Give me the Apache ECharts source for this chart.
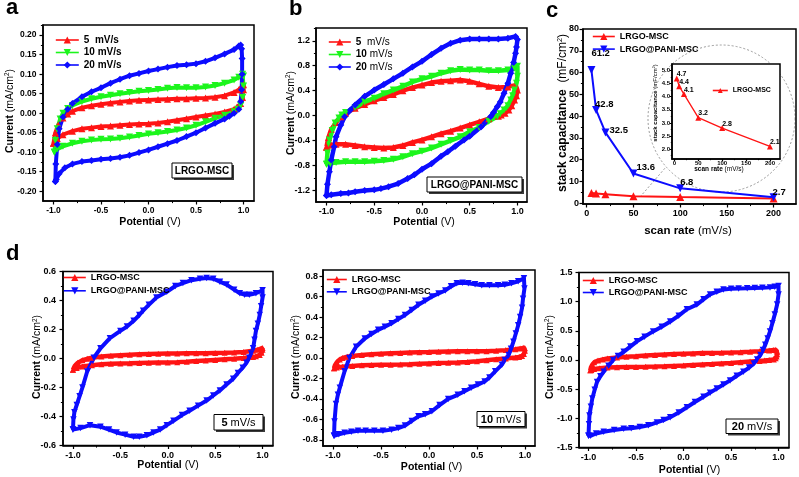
<!DOCTYPE html>
<html><head><meta charset="utf-8">
<script src="https://cdn.jsdelivr.net/npm/echarts@6/dist/echarts.min.js"></script>
<style>html,body{margin:0;padding:0;background:#fff}#c{width:799px;height:477px}</style>
</head><body><div id="c"></div>
<script>
// ---------------- DATA ----------------
const cvXTicks = [-1.0, -0.5, 0.0, 0.5, 1.0];
const aYTicks = [-0.20, -0.15, -0.10, -0.05, 0.00, 0.05, 0.10, 0.15, 0.20];
const bYTicks = [-1.2, -0.8, -0.4, 0.0, 0.4, 0.8, 1.2];
const cXTicks = [0, 50, 100, 150, 200];
const cYTicks = [0, 10, 20, 30, 40, 50, 60, 70, 80];
const insetXTicks = [0, 50, 100, 150, 200];
const insetYTicks = [2.0, 2.5, 3.0, 3.5, 4.0, 4.5, 5.0];
const d1YTicks = [-0.6, -0.4, -0.2, 0.0, 0.2, 0.4, 0.6];
const d2YTicks = [-0.8, -0.6, -0.4, -0.2, 0.0, 0.2, 0.4, 0.6, 0.8];
const d3YTicks = [-1.5, -1.0, -0.5, 0.0, 0.5, 1.0, 1.5];

const rateNames = ['5  mV/s', '10 mV/s', '20 mV/s'];

// LRGO-MSC CV loops (potential V, current mA/cm2)
const lrgo5 = [[-1.0,-0.077],[-0.98,-0.05],[-0.95,-0.03],[-0.9,-0.012],[-0.85,-0.002],[-0.8,0.005],[-0.7,0.014],[-0.6,0.019],[-0.5,0.023],[-0.4,0.026],[-0.3,0.029],[-0.2,0.031],[-0.1,0.033],[0,0.034],[0.1,0.035],[0.2,0.036],[0.3,0.037],[0.4,0.037],[0.5,0.038],[0.6,0.039],[0.7,0.041],[0.8,0.045],[0.9,0.053],[0.95,0.06],[1.0,0.073],
 [1.0,0.06],[0.99,0.04],[0.97,0.025],[0.93,0.015],
 [0.9,0.01],[0.8,0.003],[0.7,-0.002],[0.6,-0.006],[0.5,-0.01],[0.4,-0.014],[0.3,-0.018],[0.2,-0.022],[0.1,-0.025],[0,-0.027],[-0.1,-0.028],[-0.2,-0.029],[-0.3,-0.031],[-0.4,-0.033],[-0.5,-0.034],[-0.6,-0.037],[-0.7,-0.04],[-0.8,-0.046],[-0.9,-0.055],[-0.96,-0.065],[-1.0,-0.077]];
const lrgo10 = [[-0.99,-0.1],[-0.98,-0.07],[-0.96,-0.04],[-0.93,-0.015],[-0.9,0.0],[-0.85,0.012],[-0.8,0.02],[-0.7,0.03],[-0.6,0.037],[-0.5,0.042],[-0.4,0.046],[-0.3,0.05],[-0.2,0.053],[-0.1,0.056],[0,0.058],[0.1,0.061],[0.2,0.064],[0.3,0.066],[0.4,0.065],[0.5,0.065],[0.6,0.067],[0.7,0.071],[0.8,0.077],[0.9,0.085],[0.95,0.092],[0.99,0.1],
 [1.0,0.095],[1.0,0.07],[0.99,0.04],[0.97,0.02],[0.94,0.01],
 [0.9,0.004],[0.8,-0.005],[0.7,-0.013],[0.6,-0.022],[0.5,-0.031],[0.4,-0.038],[0.3,-0.043],[0.2,-0.047],[0.1,-0.05],[0,-0.053],[-0.1,-0.057],[-0.2,-0.061],[-0.3,-0.064],[-0.4,-0.066],[-0.5,-0.067],[-0.6,-0.069],[-0.7,-0.072],[-0.8,-0.077],[-0.9,-0.085],[-0.96,-0.092],[-0.99,-0.1]];
const lrgo20 = [[-0.98,-0.175],[-0.975,-0.13],[-0.96,-0.08],[-0.94,-0.04],[-0.9,-0.01],[-0.85,0.01],[-0.8,0.025],[-0.7,0.042],[-0.6,0.055],[-0.5,0.065],[-0.4,0.077],[-0.3,0.087],[-0.2,0.096],[-0.1,0.102],[0,0.108],[0.1,0.113],[0.2,0.118],[0.3,0.122],[0.4,0.124],[0.5,0.127],[0.6,0.133],[0.7,0.142],[0.8,0.152],[0.9,0.163],[0.95,0.172],[0.97,0.175],
 [0.98,0.165],[0.985,0.14],[0.985,0.1],[0.98,0.06],[0.97,0.03],[0.95,0.01],
 [0.9,0.0],[0.85,-0.008],[0.8,-0.015],[0.7,-0.026],[0.6,-0.038],[0.5,-0.05],[0.4,-0.06],[0.3,-0.07],[0.2,-0.078],[0.1,-0.086],[0,-0.094],[-0.1,-0.101],[-0.2,-0.108],[-0.3,-0.113],[-0.4,-0.116],[-0.5,-0.118],[-0.6,-0.121],[-0.7,-0.124],[-0.8,-0.13],[-0.88,-0.14],[-0.94,-0.155],[-0.97,-0.17],[-0.98,-0.175]];

// LRGO@PANI-MSC CV loops as read in panel b
const pani5b = [[-1.0,-0.5],[-0.98,-0.35],[-0.95,-0.22],[-0.9,-0.11],[-0.85,-0.02],[-0.8,0.04],[-0.7,0.12],[-0.6,0.18],[-0.5,0.24],[-0.4,0.29],[-0.3,0.34],[-0.2,0.4],[-0.1,0.45],[0,0.49],[0.1,0.53],[0.2,0.55],[0.3,0.56],[0.4,0.57],[0.5,0.55],[0.6,0.51],[0.7,0.47],[0.8,0.45],[0.9,0.46],[0.98,0.49],
 [1.0,0.41],[0.99,0.32],[0.97,0.25],[0.94,0.16],[0.91,0.09],[0.87,0.04],[0.83,0.01],
 [0.8,-0.01],[0.7,-0.05],[0.6,-0.1],[0.5,-0.15],[0.4,-0.2],[0.3,-0.25],[0.2,-0.29],[0.1,-0.34],[0,-0.39],[-0.1,-0.43],[-0.2,-0.48],[-0.3,-0.51],[-0.4,-0.52],[-0.5,-0.51],[-0.6,-0.5],[-0.7,-0.48],[-0.8,-0.46],[-0.9,-0.46],[-0.95,-0.47],[-1.0,-0.51]];
const pani10b = [[-1.0,-0.78],[-0.99,-0.6],[-0.97,-0.39],[-0.94,-0.24],[-0.91,-0.12],[-0.87,-0.04],[-0.84,0.01],[-0.8,0.05],[-0.7,0.13],[-0.6,0.22],[-0.5,0.28],[-0.4,0.35],[-0.3,0.41],[-0.2,0.47],[-0.1,0.54],[0,0.59],[0.1,0.63],[0.2,0.68],[0.3,0.72],[0.4,0.74],[0.5,0.73],[0.6,0.73],[0.7,0.72],[0.8,0.72],[0.9,0.73],[0.97,0.76],[1.0,0.79],
 [1.0,0.63],[0.99,0.52],[0.97,0.41],[0.95,0.32],[0.93,0.25],[0.9,0.16],[0.86,0.09],[0.82,0.03],
 [0.79,-0.016],[0.7,-0.09],[0.6,-0.19],[0.5,-0.26],[0.4,-0.34],[0.3,-0.4],[0.2,-0.46],[0.1,-0.52],[0,-0.57],[-0.1,-0.61],[-0.2,-0.66],[-0.3,-0.7],[-0.4,-0.72],[-0.5,-0.73],[-0.6,-0.74],[-0.7,-0.74],[-0.8,-0.74],[-0.9,-0.75],[-0.96,-0.77],[-1.0,-0.78]];
const pani20b = [[-1.0,-1.28],[-0.99,-1.1],[-0.97,-0.9],[-0.95,-0.71],[-0.92,-0.5],[-0.9,-0.34],[-0.85,-0.15],[-0.81,-0.02],[-0.75,0.09],[-0.7,0.17],[-0.6,0.31],[-0.5,0.41],[-0.4,0.5],[-0.3,0.59],[-0.2,0.68],[-0.1,0.78],[0,0.87],[0.1,0.98],[0.2,1.08],[0.3,1.16],[0.4,1.21],[0.5,1.23],[0.6,1.23],[0.7,1.23],[0.8,1.23],[0.9,1.24],[0.98,1.27],
 [1.0,1.22],[0.99,1.1],[0.98,1.0],[0.96,0.85],[0.93,0.68],[0.9,0.52],[0.86,0.36],[0.82,0.22],[0.79,0.145],[0.75,0.05],[0.72,-0.016],
 [0.62,-0.18],[0.5,-0.33],[0.44,-0.39],[0.35,-0.49],[0.27,-0.58],[0.2,-0.65],[0.1,-0.77],[0,-0.86],[-0.08,-0.95],[-0.15,-1.01],[-0.25,-1.09],[-0.35,-1.14],[-0.43,-1.17],[-0.5,-1.19],[-0.6,-1.2],[-0.7,-1.22],[-0.77,-1.24],[-0.85,-1.25],[-0.95,-1.27],[-1.0,-1.28]];

// LRGO@PANI-MSC CV loops as read in panel d
const pani5d = [[-1.0,-0.49],[-0.995,-0.42],[-0.985,-0.37],[-0.96,-0.32],[-0.93,-0.26],[-0.9,-0.2],[-0.85,-0.09],[-0.78,0.005],[-0.71,0.07],[-0.61,0.14],[-0.5,0.19],[-0.43,0.22],[-0.36,0.26],[-0.3,0.3],[-0.26,0.33],[-0.2,0.37],[-0.12,0.42],[-0.01,0.46],[0.08,0.5],[0.16,0.52],[0.25,0.54],[0.34,0.55],[0.41,0.555],[0.48,0.55],[0.55,0.53],[0.62,0.51],[0.7,0.475],[0.76,0.45],[0.81,0.44],[0.86,0.44],[0.93,0.45],[1.0,0.47],
 [1.0,0.42],[0.985,0.36],[0.97,0.3],[0.95,0.24],[0.93,0.19],[0.915,0.13],[0.9,0.07],[0.88,0.035],[0.86,0.005],[0.83,-0.03],[0.79,-0.064],[0.74,-0.1],[0.69,-0.14],[0.62,-0.18],[0.55,-0.22],[0.48,-0.255],[0.41,-0.29],[0.32,-0.325],[0.23,-0.36],[0.15,-0.39],[0.06,-0.43],[-0.01,-0.46],[-0.08,-0.49],[-0.15,-0.51],[-0.22,-0.53],[-0.3,-0.54],[-0.36,-0.54],[-0.45,-0.525],[-0.54,-0.51],[-0.62,-0.49],[-0.71,-0.47],[-0.82,-0.46],[-0.92,-0.48],[-1.0,-0.49]];
const pani10d = [[-0.99,-0.76],[-0.985,-0.62],[-0.97,-0.45],[-0.95,-0.36],[-0.93,-0.29],[-0.88,-0.13],[-0.83,0.0],[-0.76,0.11],[-0.67,0.19],[-0.6,0.235],[-0.53,0.275],[-0.46,0.305],[-0.39,0.34],[-0.32,0.38],[-0.25,0.42],[-0.18,0.47],[-0.11,0.52],[-0.04,0.56],[0.03,0.6],[0.1,0.63],[0.17,0.66],[0.23,0.7],[0.29,0.73],[0.35,0.735],[0.41,0.73],[0.48,0.72],[0.55,0.71],[0.63,0.71],[0.72,0.71],[0.79,0.715],[0.86,0.73],[0.93,0.75],[0.99,0.78],
 [0.995,0.68],[0.98,0.58],[0.97,0.49],[0.95,0.4],[0.93,0.32],[0.905,0.24],[0.88,0.16],[0.855,0.09],[0.83,0.03],[0.79,-0.02],[0.76,-0.065],[0.69,-0.13],[0.63,-0.19],[0.58,-0.23],[0.51,-0.26],[0.44,-0.29],[0.37,-0.325],[0.3,-0.36],[0.2,-0.4],[0.11,-0.46],[0.03,-0.52],[-0.04,-0.55],[-0.11,-0.57],[-0.18,-0.615],[-0.25,-0.66],[-0.32,-0.685],[-0.39,-0.7],[-0.48,-0.71],[-0.57,-0.71],[-0.66,-0.71],[-0.74,-0.71],[-0.81,-0.72],[-0.88,-0.73],[-0.94,-0.745],[-0.99,-0.76]];
const pani20d = [[-1.0,-1.3],[-0.995,-1.1],[-0.99,-0.95],[-0.975,-0.8],[-0.96,-0.66],[-0.935,-0.51],[-0.91,-0.375],[-0.875,-0.28],[-0.84,-0.2],[-0.79,-0.1],[-0.74,0.0],[-0.69,0.07],[-0.63,0.14],[-0.56,0.23],[-0.49,0.32],[-0.41,0.4],[-0.32,0.49],[-0.23,0.57],[-0.14,0.66],[-0.05,0.76],[0.035,0.87],[0.14,0.95],[0.21,1.04],[0.28,1.125],[0.35,1.17],[0.42,1.21],[0.5,1.22],[0.58,1.225],[0.67,1.23],[0.75,1.235],[0.83,1.24],[0.91,1.245],[0.96,1.255],[1.0,1.27],
 [1.0,1.125],[0.985,0.95],[0.96,0.78],[0.935,0.63],[0.91,0.49],[0.885,0.37],[0.86,0.26],[0.835,0.17],[0.81,0.087],[0.775,0.01],[0.74,-0.058],[0.69,-0.13],[0.63,-0.2],[0.56,-0.27],[0.49,-0.35],[0.42,-0.42],[0.35,-0.49],[0.28,-0.56],[0.21,-0.63],[0.12,-0.72],[0.035,-0.81],[-0.05,-0.9],[-0.14,-0.98],[-0.21,-1.03],[-0.28,-1.07],[-0.37,-1.12],[-0.46,-1.15],[-0.55,-1.17],[-0.63,-1.18],[-0.73,-1.2],[-0.84,-1.23],[-0.92,-1.26],[-0.98,-1.3],[-1.0,-1.3]];

// Panel c: stack capacitance vs scan rate
const scanRates = [5, 10, 20, 50, 100, 200];
const capLRGO = [4.7, 4.4, 4.1, 3.2, 2.8, 2.1];
const capPANI = [61.2, 42.8, 32.5, 13.6, 6.8, 2.7];

// ---------------- STYLE / BUILD ----------------
const FONT = "'Liberation Sans', Arial, Helvetica, sans-serif";
const RED = '#ff1414', GREEN = '#1cf51c', BLUE = '#0c0cff';

function mids(maj, min, max) {
  const out = [];
  const st = maj[1] - maj[0];
  for (let i = 0; i < maj.length - 1; i++) out.push((maj[i] + maj[i + 1]) / 2);
  if (maj[0] - st / 2 > min) out.unshift(maj[0] - st / 2);
  if (maj[maj.length - 1] + st / 2 < max) out.push(maj[maj.length - 1] + st / 2);
  return out;
}
const grids = [], xAxes = [], yAxes = [];
function addPanel(g, xr, yr, xMaj, yMaj, xDec, yDec, o) {
  const gi = grids.length;
  grids.push(Object.assign({show: true, borderColor: '#000', borderWidth: 1.5, backgroundColor: o.bg || 'transparent', z: o.z || 2}, g));
  const lab = (d, m, fs) => ({show: true, customValues: null, formatter: v => v.toFixed(d), fontSize: fs, fontWeight: 'bold', color: '#000', fontFamily: FONT, margin: m});
  const mk = (dim, r, maj, dec, m) => {
    const base = {gridIndex: gi, type: 'value', min: r[0], max: r[1], splitLine: {show: false}, position: dim === 'x' ? 'bottom' : 'left', z: o.az || 3};
    const l = lab(dec, m, o.fs); l.customValues = maj;
    return [
      Object.assign({}, base, {axisLine: {show: true, onZero: false, lineStyle: {color: '#000', width: 1.5}},
        axisTick: {show: true, inside: false, length: o.tl || 3.5, customValues: maj, lineStyle: {color: '#000', width: 1.2}}, axisLabel: l}),
      Object.assign({}, base, {axisLine: {show: false, onZero: false}, axisTick: {show: true, inside: false, length: (o.tl || 3.5) * 0.6, customValues: mids(maj, r[0], r[1]), lineStyle: {color: '#000', width: 1}}, axisLabel: {show: false}})
    ];
  };
  const xi = xAxes.length, yi = yAxes.length;
  xAxes.push(...mk('x', xr, xMaj, xDec, o.xm));
  yAxes.push(...mk('y', yr, yMaj, yDec, o.ym));
  return {xi, yi};
}
function line(name, data, ax, color, symbol, rot, size, lw, z) {
  return {type: 'line', name, data, xAxisIndex: ax.xi, yAxisIndex: ax.yi, symbol, symbolRotate: rot, symbolSize: size,
    showSymbol: true, showAllSymbol: true, color, lineStyle: {color, width: lw}, itemStyle: {color, borderWidth: 0},
    animation: false, silent: true, z: z || 3};
}

const pa = addPanel({left: 43, top: 25, width: 211, height: 176}, [-1.11, 1.11], [-0.225, 0.226], cvXTicks, aYTicks, 1, 2, {fs: 8.5, xm: 5.5, ym: 6.5});
const pb = addPanel({left: 316, top: 28, width: 211, height: 174}, [-1.11, 1.1], [-1.385, 1.405], cvXTicks, bYTicks, 1, 1, {fs: 9, xm: 5.5, ym: 6});
const pc = addPanel({left: 583, top: 29, width: 213, height: 175}, [-4, 224], [-0.4, 80], cXTicks, cYTicks, 0, 0, {fs: 9, xm: 5, ym: 4});
const pi = addPanel({left: 672, top: 64, width: 108, height: 95}, [-5, 221], [1.62, 5.25], insetXTicks, insetYTicks, 0, 1, {fs: 6, xm: 1, ym: 2, tl: 2, bg: '#fff', z: 4, az: 6});
const pd1 = addPanel({left: 63, top: 271.5, width: 210, height: 174}, [-1.105, 1.11], [-0.6, 0.6], cvXTicks, d1YTicks, 1, 1, {fs: 9, xm: 5.5, ym: 7});
const pd2 = addPanel({left: 323, top: 270, width: 212, height: 176}, [-1.105, 1.105], [-0.86, 0.86], cvXTicks, d2YTicks, 1, 1, {fs: 9, xm: 5, ym: 5});
const pd3 = addPanel({left: 579, top: 272.5, width: 210, height: 175}, [-1.1, 1.11], [-1.5, 1.5], cvXTicks, d3YTicks, 1, 1, {fs: 9, xm: 6, ym: 6.5});

const pair = (xs, ys) => xs.map((x, i) => [x, ys[i]]);
const cPaniLabel = [
  {position: 'top', offset: [0, -8]}, {position: 'top', offset: [-1, 3]}, {position: 'right', offset: [0, -2]},
  {position: 'top', offset: [3, 3]}, {position: 'top', offset: [0, 3.5]}, {position: 'top', offset: [-1, 4.5]}];
const labStyle = fs => ({show: true, fontSize: fs, fontWeight: 'bold', fontFamily: FONT, color: '#000', align: 'left', distance: 0, formatter: p => p.value[1].toFixed(1)});

const series = [
  line(rateNames[0], lrgo5, pa, RED, 'triangle', 0, 7, 4),
  line(rateNames[1], lrgo10, pa, GREEN, 'triangle', 180, 7, 4),
  line(rateNames[2], lrgo20, pa, BLUE, 'diamond', 0, 7, 4),
  line(rateNames[0], pani5b, pb, RED, 'triangle', 0, 7, 4.5),
  line(rateNames[1], pani10b, pb, GREEN, 'triangle', 180, 7, 4.5),
  line(rateNames[2], pani20b, pb, BLUE, 'diamond', 0, 7, 4.5),
  line('LRGO-MSC', pair(scanRates, capLRGO), pc, RED, 'triangle', 0, 8, 2),
  Object.assign(line('LRGO@PANI-MSC', pair(scanRates, capPANI).map((v, i) => ({value: v, label: cPaniLabel[i]})), pc, BLUE, 'triangle', 180, 8, 2),
    {label: labStyle(9.5)}),
  Object.assign(line('LRGO-MSC', pair(scanRates, capLRGO).map(v => ({value: v})), pi, RED, 'triangle', 0, 6, 1.3, 7),
    {label: Object.assign(labStyle(7), {position: 'top', offset: [0, 2]})}),
  line('LRGO-MSC', lrgo5, pd1, RED, 'triangle', 0, 6, 4.5),
  line('LRGO@PANI-MSC', pani5d, pd1, BLUE, 'triangle', 180, 6.5, 4),
  line('LRGO-MSC', lrgo10, pd2, RED, 'triangle', 0, 6, 4.5),
  line('LRGO@PANI-MSC', pani10d, pd2, BLUE, 'triangle', 180, 6.5, 4),
  line('LRGO-MSC', lrgo20, pd3, RED, 'triangle', 0, 6, 4.5),
  line('LRGO@PANI-MSC', pani20d, pd3, BLUE, 'triangle', 180, 6.5, 4)
];

function legend(left, top, data, fs, iw, ih, gap, fmt, z) {
  return {orient: 'vertical', left, top, data, itemWidth: iw, itemHeight: ih, itemGap: gap, selectedMode: false,
    padding: 0, lineStyle: {width: 1.6}, z: z || 5, formatter: fmt,
    textStyle: {fontSize: fs, fontWeight: 'bold', color: '#000', fontFamily: FONT, lineHeight: fs + 2,
      rich: {b: {fontSize: fs, fontWeight: 'bold', fontFamily: FONT, color: '#000'}, n: {fontSize: fs, fontWeight: 'normal', fontFamily: FONT, color: '#000'}}}};
}
const mixFmt = name => name.replace(/^(\d+)(\s+)(.*)$/, '{b|$1}{n|$2$3}');
const legends = [
  legend(55, 34, rateNames, 10, 23, 9, 0.5),
  legend(328, 36, rateNames, 10, 22, 9, 0.5, mixFmt),
  legend(592, 31, ['LRGO-MSC', 'LRGO@PANI-MSC'], 9, 22, 9, 1.6),
  legend(712, 86, ['LRGO-MSC'], 7, 15, 6, 0, null, 8),
  legend(63, 272, ['LRGO-MSC', 'LRGO@PANI-MSC'], 9, 22, 9, 2.3),
  legend(326, 274, ['LRGO-MSC', 'LRGO@PANI-MSC'], 9, 20, 9, 1.3),
  legend(582, 275, ['LRGO-MSC', 'LRGO@PANI-MSC'], 9, 21, 9, 1)
];

const G = [];
function rich(fs) {
  return {b: {fontSize: fs, fontWeight: 'bold', fontFamily: FONT, fill: '#000', color: '#000'},
    n: {fontSize: fs, fontFamily: FONT, fill: '#000', color: '#000'},
    s: {fontSize: fs * 0.6, fontFamily: FONT, fill: '#000', color: '#000', verticalAlign: 'top'}};
}
function title(x, y, text, fs, rot) {
  G.push({type: 'text', x, y, rotation: rot ? Math.PI / 2 : 0, z: 50,
    style: {text, rich: rich(fs), fontFamily: FONT, fontSize: fs, fill: '#000', align: 'center', verticalAlign: 'middle'}});
}
const curT = '{b|Current} {n|(mA/cm}{s|2}{n|)}';
const potT = '{b|Potential} {n|(V)}';
title(10, 111, curT, 10.5, true);
title(291, 113, curT, 10.5, true);
title(562.5, 113, '{b|stack capacitance}  {n|(mF/cm}{s|2}{n|)}', 12, true);
title(655, 103, '{b|stack capacitance} {n|(mF/cm}{s|2}{n|)}', 6, true);
title(719, 169.5, '{b|scan rate} {n|(mV/s)}', 6.5, false);
title(37.5, 357, curT, 10.5, true);
title(296, 357, curT, 10.5, true);
title(550, 357, curT, 10.5, true);
title(150, 222, potT, 10.5, false);
title(424, 222, potT, 10.5, false);
title(688, 231, '{b|scan rate} {n|(mV/s)}', 11.5, false);
title(168, 465, potT, 10.5, false);
title(431.5, 467, potT, 10.5, false);
title(689.5, 470, potT, 10.5, false);

function letter(x, y, t) {
  G.push({type: 'text', x, y, z: 50, style: {text: t, fontSize: 22, fontWeight: 'bold', fontFamily: FONT, fill: '#000', align: 'left', verticalAlign: 'middle'}});
}
letter(6, 8, 'a'); letter(289, 9, 'b'); letter(546, 11, 'c'); letter(6, 254, 'd');

function box(x, y, w, h, text, fs) {
  G.push({type: 'rect', z: 60, shape: {x: x + 2, y: y + 2, width: w, height: h}, style: {fill: '#3a3a3a'}});
  G.push({type: 'rect', z: 61, shape: {x, y, width: w, height: h}, style: {fill: '#fff', stroke: '#000', lineWidth: 1}});
  G.push({type: 'text', z: 62, x: x + w / 2, y: y + h / 2 + 0.5, style: {text, rich: rich(fs), fontSize: fs, fontWeight: 'bold', fontFamily: FONT, fill: '#000', align: 'center', verticalAlign: 'middle'}});
}
box(172, 163, 60, 15, '{b|LRGO-MSC}', 10);
box(427, 177, 95, 15, '{b|LRGO@PANI-MSC}', 10);
box(214, 414.5, 49, 15.5, '{b|5} {n|mV/s}', 11);
box(477, 411.5, 48, 15, '{b|10} {n|mV/s}', 11);
box(726, 419, 52, 14.5, '{b|20} {n|mV/s}', 11);

G.push({type: 'circle', z: 1, shape: {cx: 721.5, cy: 118.5, r: 73.5}, style: {fill: null, stroke: '#9a9a9a', lineWidth: 1, lineDash: [2, 2]}});
G.push({type: 'line', z: 1, shape: {x1: 640, y1: 197, x2: 666, y2: 167}, style: {stroke: '#9a9a9a', lineWidth: 1, lineDash: [2, 2]}});

const chart = echarts.init(document.getElementById('c'), null, {renderer: 'canvas'});
chart.setOption({animation: false, backgroundColor: '#fff', grid: grids, xAxis: xAxes, yAxis: yAxes, legend: legends, series, graphic: {elements: G}});
</script></body></html>
